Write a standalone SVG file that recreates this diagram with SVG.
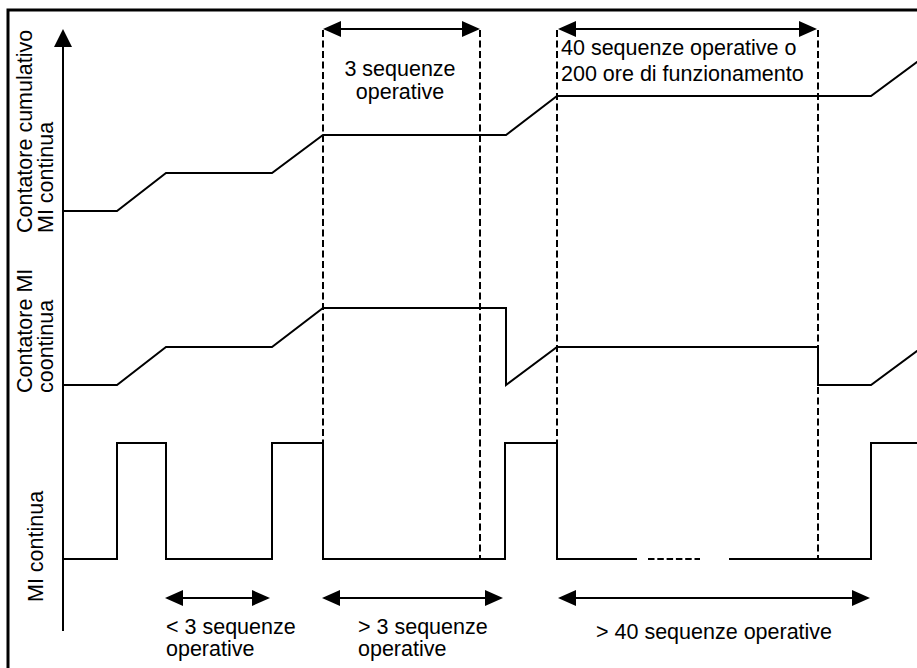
<svg xmlns="http://www.w3.org/2000/svg" width="917" height="668" viewBox="0 0 917 668">
  <style>
    text { font-family: "Liberation Sans", Arial, sans-serif; font-size: 21.5px; fill: #000; }
    .sig { fill: none; stroke: #000; stroke-width: 2; stroke-linejoin: miter; }
    .guide { fill: none; stroke: #000; stroke-width: 2; stroke-dasharray: 7 3.5; }
    .dim { fill: none; stroke: #000; stroke-width: 2; marker-start: url(#head); marker-end: url(#head); }
    .mid { text-anchor: middle; }
  </style>
  <defs>
    <marker id="head" viewBox="0 0 18 16" refX="16" refY="8" markerWidth="18" markerHeight="16" markerUnits="userSpaceOnUse" orient="auto-start-reverse">
      <path d="M0,0 L18,8 L0,16 z" fill="#000"/>
    </marker>
  </defs>

  <rect width="917" height="668" fill="#fff"/>

  <!-- outer frame (runs off the right and bottom edges) -->
  <rect id="frame" x="8" y="10" width="1000" height="700" fill="none" stroke="#000" stroke-width="3"/>

  <!-- vertical axis -->
  <g id="axis">
    <line x1="63" y1="45" x2="63" y2="631" stroke="#000" stroke-width="2"/>
    <path d="M63,29 L72,47 L54,47 z" fill="#000"/>
  </g>

  <!-- signal traces -->
  <g id="trace-cumulative">
    <path class="sig" d="M63,211 L117,211 L166,173 L272,173 L323,135 L506,135 L557,96 L871,96 L925,56"/>
  </g>
  <g id="trace-counter">
    <path class="sig" d="M63,385 L117,385 L166,347 L272,347 L323,308 L506,308 L506,385 L557,347 L818,347 L818,385 L871,385 L925,345"/>
  </g>
  <g id="trace-mi">
    <path class="sig" d="M63,559 L117,559 L117,443 L166,443 L166,559 L272,559 L272,443 L323,443 L323,559 L505,559 L505,443 L557,443 L557,559 L637,559"/>
    <path class="sig" d="M729,559 L871,559 L871,443 L925,443"/>
    <path class="sig" d="M648,559 L700,559" stroke-dasharray="6.5 2.8"/>
  </g>

  <!-- connectors: dashed guides and dimension arrows -->
  <g id="connectors">
    <line class="guide" x1="323" y1="30" x2="323" y2="559"/>
    <line class="guide" x1="480" y1="30" x2="480" y2="559"/>
    <line class="guide" x1="557" y1="30" x2="557" y2="559"/>
    <line class="guide" x1="818" y1="30" x2="818" y2="559"/>

    <line class="dim" x1="325" y1="29" x2="478" y2="29"/>
    <line class="dim" x1="560" y1="29" x2="815" y2="29"/>

    <line class="dim" x1="167" y1="598" x2="268" y2="598"/>
    <line class="dim" x1="324" y1="598" x2="501" y2="598"/>
    <line class="dim" x1="560" y1="598" x2="868" y2="598"/>
  </g>

  <!-- axis labels -->
  <g id="label-cumulative">
    <text transform="translate(32,233) rotate(-90)">Contatore cumulativo</text>
    <text transform="translate(53,233) rotate(-90)">MI continua</text>
  </g>
  <g id="label-counter">
    <text transform="translate(32,393) rotate(-90)">Contatore MI</text>
    <text transform="translate(53,393) rotate(-90)">coontinua</text>
  </g>
  <g id="label-mi">
    <text transform="translate(43,602) rotate(-90)">MI continua</text>
  </g>

  <!-- interval labels -->
  <g id="label-3seq">
    <text class="mid" x="400" y="76">3 sequenze</text>
    <text class="mid" x="400" y="99">operative</text>
  </g>
  <g id="label-40seq">
    <text x="561" y="55">40 sequenze operative o</text>
    <text x="561" y="81">200 ore di funzionamento</text>
  </g>
  <g id="label-lt3">
    <text x="166" y="634">&lt; 3 sequenze</text>
    <text x="166" y="656">operative</text>
  </g>
  <g id="label-gt3">
    <text x="358" y="634">&gt; 3 sequenze</text>
    <text x="358" y="656">operative</text>
  </g>
  <g id="label-gt40">
    <text x="596" y="639">&gt; 40 sequenze operative</text>
  </g>
</svg>
